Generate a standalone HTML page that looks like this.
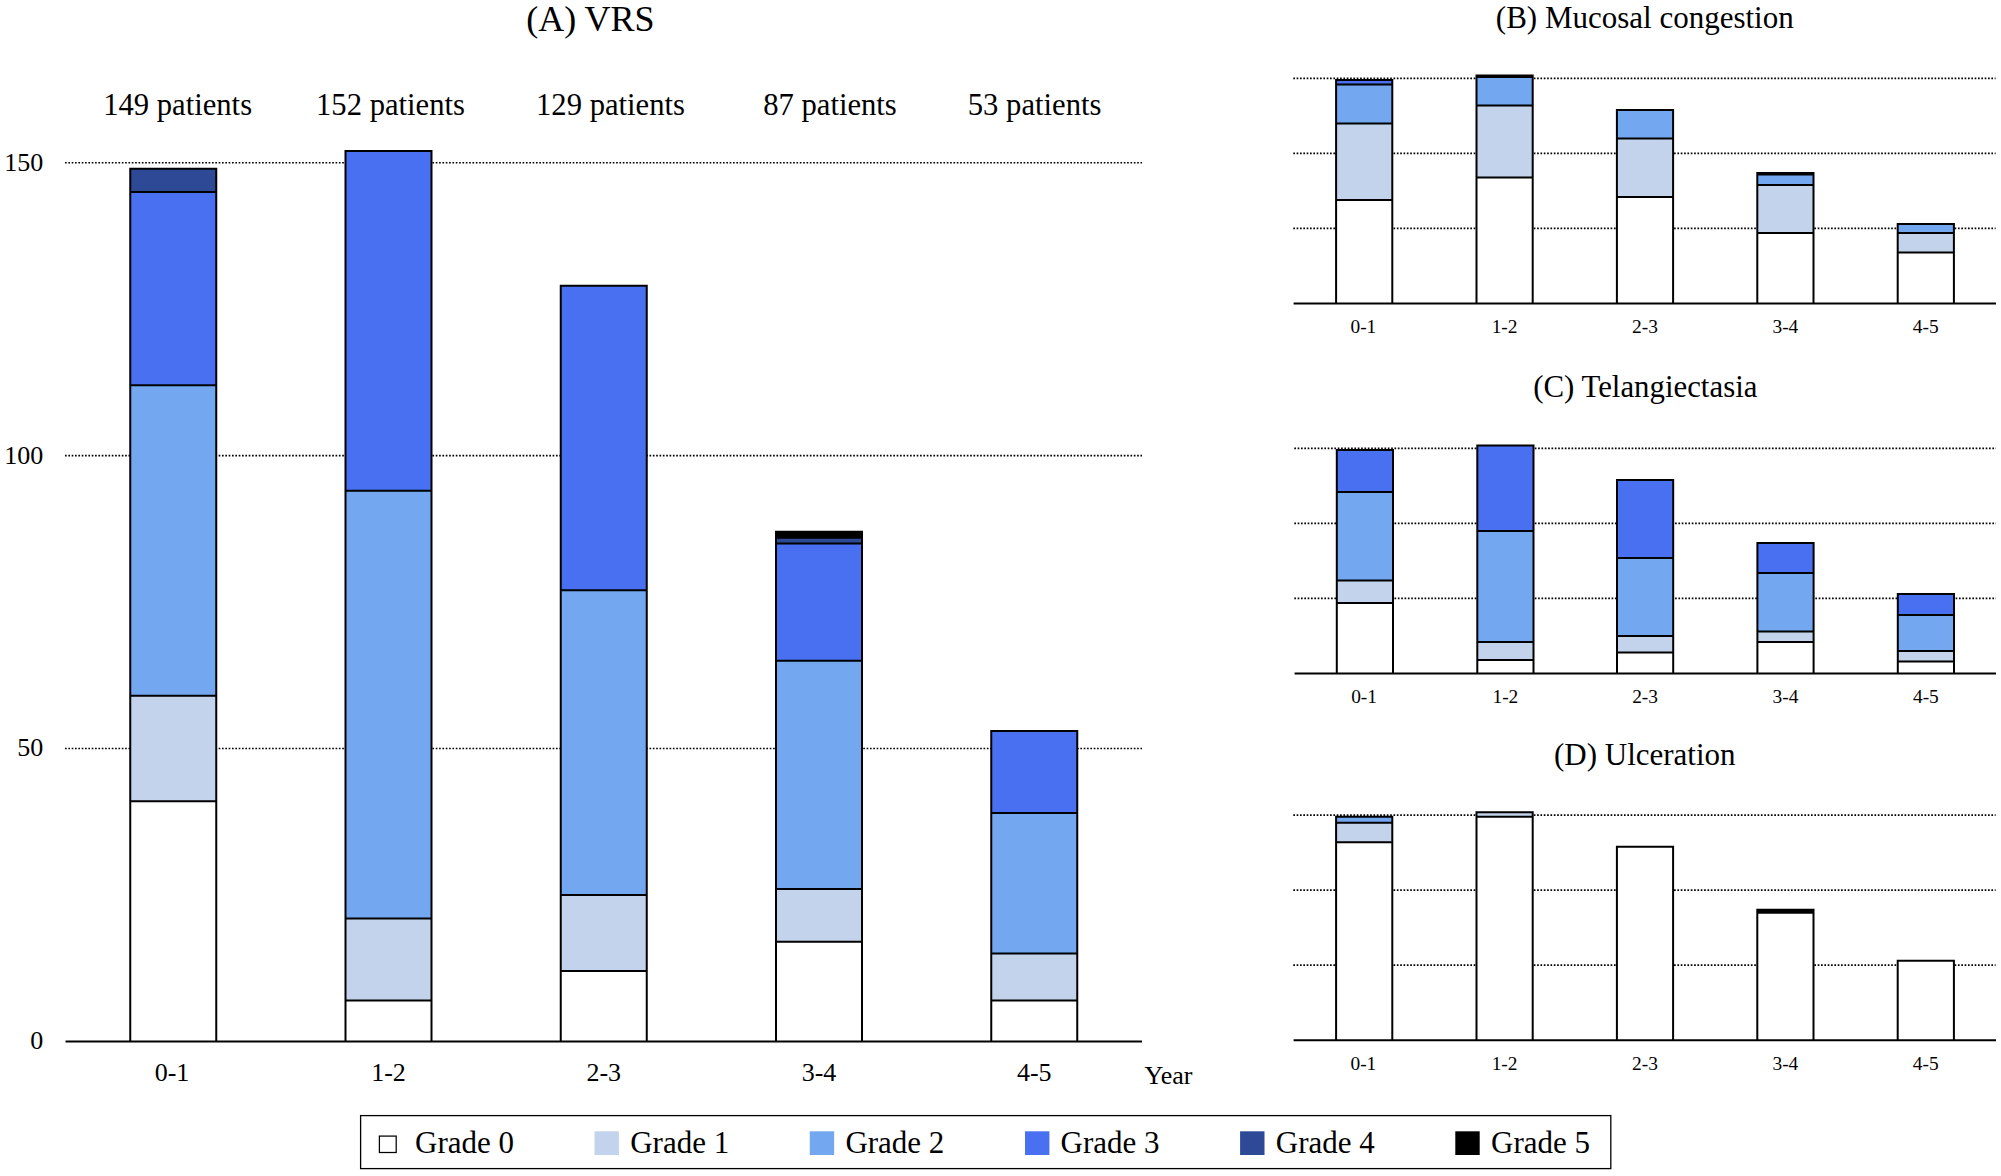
<!DOCTYPE html>
<html lang="en">
<head>
<meta charset="utf-8">
<title>VRS grade distribution by year</title>
<style>
html,body{margin:0;padding:0;background:#fff;}
body{width:2001px;height:1176px;overflow:hidden;}
svg{display:block;font-family:"Liberation Serif", serif;fill:#000;}
.g{stroke:#000;stroke-width:1.67;stroke-dasharray:1.67 1.67;fill:none;}
.b{stroke:#000;stroke-width:2;stroke-linejoin:miter;fill:none;}
.ax{stroke:#000;stroke-width:2;fill:none;}
text{fill:#000;}
</style>
</head>
<body>
<svg width="2001" height="1176" viewBox="0 0 2001 1176">
<rect x="0" y="0" width="2001" height="1176" fill="#ffffff"/>
<line class="g" x1="65" y1="748.53" x2="1142" y2="748.53"/>
<line class="g" x1="65" y1="455.65" x2="1142" y2="455.65"/>
<line class="g" x1="65" y1="162.78" x2="1142" y2="162.78"/>
<rect x="130.25" y="801.24" width="86" height="240.16" fill="#ffffff"/>
<rect x="130.25" y="695.81" width="86" height="105.44" fill="#c2d3eb"/>
<rect x="130.25" y="385.36" width="86" height="310.45" fill="#73a7f0"/>
<rect x="130.25" y="192.06" width="86" height="193.3" fill="#4870f0"/>
<rect x="130.25" y="168.63" width="86" height="23.43" fill="#2e4a96"/>
<path class="b" d="M130.25 1041.4V168.63H216.25V1041.4M130.25 801.24H216.25M130.25 695.81H216.25M130.25 385.36H216.25M130.25 192.06H216.25"/>
<rect x="345.5" y="1000.4" width="86" height="41" fill="#ffffff"/>
<rect x="345.5" y="918.39" width="86" height="82" fill="#c2d3eb"/>
<rect x="345.5" y="490.8" width="86" height="427.6" fill="#73a7f0"/>
<rect x="345.5" y="151.06" width="86" height="339.74" fill="#4870f0"/>
<path class="b" d="M345.5 1041.4V151.06H431.5V1041.4M345.5 1000.4H431.5M345.5 918.39H431.5M345.5 490.8H431.5"/>
<rect x="560.75" y="971.11" width="86" height="70.29" fill="#ffffff"/>
<rect x="560.75" y="894.96" width="86" height="76.15" fill="#c2d3eb"/>
<rect x="560.75" y="590.37" width="86" height="304.59" fill="#73a7f0"/>
<rect x="560.75" y="285.78" width="86" height="304.59" fill="#4870f0"/>
<path class="b" d="M560.75 1041.4V285.78H646.75V1041.4M560.75 971.11H646.75M560.75 894.96H646.75M560.75 590.37H646.75"/>
<rect x="776" y="941.82" width="86" height="99.58" fill="#ffffff"/>
<rect x="776" y="889.11" width="86" height="52.72" fill="#c2d3eb"/>
<rect x="776" y="660.66" width="86" height="228.44" fill="#73a7f0"/>
<rect x="776" y="543.51" width="86" height="117.15" fill="#4870f0"/>
<rect x="776" y="537.66" width="86" height="5.86" fill="#2e4a96"/>
<rect x="776" y="531.8" width="86" height="5.86" fill="#000000"/>
<path class="b" d="M776 1041.4V531.8H862V1041.4M776 941.82H862M776 889.11H862M776 660.66H862M776 543.51H862M776 537.66H862"/>
<rect x="991.25" y="1000.4" width="86" height="41" fill="#ffffff"/>
<rect x="991.25" y="953.54" width="86" height="46.86" fill="#c2d3eb"/>
<rect x="991.25" y="812.96" width="86" height="140.58" fill="#73a7f0"/>
<rect x="991.25" y="730.95" width="86" height="82" fill="#4870f0"/>
<path class="b" d="M991.25 1041.4V730.95H1077.25V1041.4M991.25 1000.4H1077.25M991.25 953.54H1077.25M991.25 812.96H1077.25"/>
<line class="ax" x1="65.5" y1="1041.4" x2="1142" y2="1041.4"/>
<text x="172.05" y="1081" font-size="26" text-anchor="middle">0-1</text>
<text x="388.5" y="1081" font-size="26" text-anchor="middle">1-2</text>
<text x="603.75" y="1081" font-size="26" text-anchor="middle">2-3</text>
<text x="819" y="1081" font-size="26" text-anchor="middle">3-4</text>
<text x="1034.25" y="1081" font-size="26" text-anchor="middle">4-5</text>
<text x="43.2" y="1049.3" font-size="26" text-anchor="end">0</text>
<text x="43.2" y="756.43" font-size="26" text-anchor="end">50</text>
<text x="43.2" y="463.55" font-size="26" text-anchor="end">100</text>
<text x="43.2" y="170.68" font-size="26" text-anchor="end">150</text>
<text x="177.6" y="115.3" font-size="30.65" text-anchor="middle">149 patients</text>
<text x="390.5" y="115.3" font-size="30.65" text-anchor="middle">152 patients</text>
<text x="610.5" y="115.3" font-size="30.65" text-anchor="middle">129 patients</text>
<text x="830" y="115.3" font-size="30.65" text-anchor="middle">87 patients</text>
<text x="1034.6" y="115.3" font-size="30.65" text-anchor="middle">53 patients</text>
<text x="590.4" y="31.2" font-size="36" text-anchor="middle">(A) VRS</text>
<text x="1144.5" y="1083.6" font-size="26">Year</text>
<line class="g" x1="1293.3" y1="228.4" x2="1995.6" y2="228.4"/>
<line class="g" x1="1293.3" y1="153.4" x2="1995.6" y2="153.4"/>
<line class="g" x1="1293.3" y1="78.4" x2="1995.6" y2="78.4"/>
<rect x="1336.1" y="199.9" width="56.2" height="103.5" fill="#ffffff"/>
<rect x="1336.1" y="123.4" width="56.2" height="76.5" fill="#c2d3eb"/>
<rect x="1336.1" y="84.4" width="56.2" height="39" fill="#73a7f0"/>
<rect x="1336.1" y="79.9" width="56.2" height="4.5" fill="#4870f0"/>
<path class="b" d="M1336.1 303.4V79.9H1392.3V303.4M1336.1 199.9H1392.3M1336.1 123.4H1392.3M1336.1 84.4H1392.3"/>
<rect x="1476.5" y="177.4" width="56.2" height="126" fill="#ffffff"/>
<rect x="1476.5" y="105.4" width="56.2" height="72" fill="#c2d3eb"/>
<rect x="1476.5" y="76.9" width="56.2" height="28.5" fill="#73a7f0"/>
<rect x="1476.5" y="75.4" width="56.2" height="1.5" fill="#000000"/>
<path class="b" d="M1476.5 303.4V75.4H1532.7V303.4M1476.5 177.4H1532.7M1476.5 105.4H1532.7M1476.5 76.9H1532.7"/>
<rect x="1616.9" y="196.9" width="56.2" height="106.5" fill="#ffffff"/>
<rect x="1616.9" y="138.4" width="56.2" height="58.5" fill="#c2d3eb"/>
<rect x="1616.9" y="109.9" width="56.2" height="28.5" fill="#73a7f0"/>
<path class="b" d="M1616.9 303.4V109.9H1673.1V303.4M1616.9 196.9H1673.1M1616.9 138.4H1673.1"/>
<rect x="1757.3" y="232.9" width="56.2" height="70.5" fill="#ffffff"/>
<rect x="1757.3" y="184.9" width="56.2" height="48" fill="#c2d3eb"/>
<rect x="1757.3" y="174.4" width="56.2" height="10.5" fill="#73a7f0"/>
<rect x="1757.3" y="172.9" width="56.2" height="1.5" fill="#000000"/>
<path class="b" d="M1757.3 303.4V172.9H1813.5V303.4M1757.3 232.9H1813.5M1757.3 184.9H1813.5M1757.3 174.4H1813.5"/>
<rect x="1897.7" y="252.4" width="56.2" height="51" fill="#ffffff"/>
<rect x="1897.7" y="232.9" width="56.2" height="19.5" fill="#c2d3eb"/>
<rect x="1897.7" y="223.9" width="56.2" height="9" fill="#73a7f0"/>
<path class="b" d="M1897.7 303.4V223.9H1953.9V303.4M1897.7 252.4H1953.9M1897.7 232.9H1953.9"/>
<line class="ax" x1="1293.6" y1="303.4" x2="1996" y2="303.4"/>
<text x="1363.4" y="333" font-size="19.4" text-anchor="middle">0-1</text>
<text x="1504.6" y="333" font-size="19.4" text-anchor="middle">1-2</text>
<text x="1645" y="333" font-size="19.4" text-anchor="middle">2-3</text>
<text x="1785.4" y="333" font-size="19.4" text-anchor="middle">3-4</text>
<text x="1925.8" y="333" font-size="19.4" text-anchor="middle">4-5</text>
<text x="1644.8" y="28.1" font-size="31" text-anchor="middle">(B) Mucosal congestion</text>
<line class="g" x1="1294.3" y1="598.4" x2="1996" y2="598.4"/>
<line class="g" x1="1294.3" y1="523.4" x2="1996" y2="523.4"/>
<line class="g" x1="1294.3" y1="448.4" x2="1996" y2="448.4"/>
<rect x="1336.8" y="602.9" width="56.2" height="70.5" fill="#ffffff"/>
<rect x="1336.8" y="580.4" width="56.2" height="22.5" fill="#c2d3eb"/>
<rect x="1336.8" y="491.9" width="56.2" height="88.5" fill="#73a7f0"/>
<rect x="1336.8" y="449.9" width="56.2" height="42" fill="#4870f0"/>
<path class="b" d="M1336.8 673.4V449.9H1393V673.4M1336.8 602.9H1393M1336.8 580.4H1393M1336.8 491.9H1393"/>
<rect x="1477.3" y="659.9" width="56.2" height="13.5" fill="#ffffff"/>
<rect x="1477.3" y="641.9" width="56.2" height="18" fill="#c2d3eb"/>
<rect x="1477.3" y="530.9" width="56.2" height="111" fill="#73a7f0"/>
<rect x="1477.3" y="445.4" width="56.2" height="85.5" fill="#4870f0"/>
<path class="b" d="M1477.3 673.4V445.4H1533.5V673.4M1477.3 659.9H1533.5M1477.3 641.9H1533.5M1477.3 530.9H1533.5"/>
<rect x="1617" y="652.4" width="56.2" height="21" fill="#ffffff"/>
<rect x="1617" y="635.9" width="56.2" height="16.5" fill="#c2d3eb"/>
<rect x="1617" y="557.9" width="56.2" height="78" fill="#73a7f0"/>
<rect x="1617" y="479.9" width="56.2" height="78" fill="#4870f0"/>
<path class="b" d="M1617 673.4V479.9H1673.2V673.4M1617 652.4H1673.2M1617 635.9H1673.2M1617 557.9H1673.2"/>
<rect x="1757.4" y="641.9" width="56.2" height="31.5" fill="#ffffff"/>
<rect x="1757.4" y="631.4" width="56.2" height="10.5" fill="#c2d3eb"/>
<rect x="1757.4" y="572.9" width="56.2" height="58.5" fill="#73a7f0"/>
<rect x="1757.4" y="542.9" width="56.2" height="30" fill="#4870f0"/>
<path class="b" d="M1757.4 673.4V542.9H1813.6V673.4M1757.4 641.9H1813.6M1757.4 631.4H1813.6M1757.4 572.9H1813.6"/>
<rect x="1897.8" y="661.4" width="56.2" height="12" fill="#ffffff"/>
<rect x="1897.8" y="650.9" width="56.2" height="10.5" fill="#c2d3eb"/>
<rect x="1897.8" y="614.9" width="56.2" height="36" fill="#73a7f0"/>
<rect x="1897.8" y="593.9" width="56.2" height="21" fill="#4870f0"/>
<path class="b" d="M1897.8 673.4V593.9H1954V673.4M1897.8 661.4H1954M1897.8 650.9H1954M1897.8 614.9H1954"/>
<line class="ax" x1="1294.6" y1="673.4" x2="1996" y2="673.4"/>
<text x="1364.1" y="703" font-size="19.4" text-anchor="middle">0-1</text>
<text x="1505.4" y="703" font-size="19.4" text-anchor="middle">1-2</text>
<text x="1645.1" y="703" font-size="19.4" text-anchor="middle">2-3</text>
<text x="1785.5" y="703" font-size="19.4" text-anchor="middle">3-4</text>
<text x="1925.9" y="703" font-size="19.4" text-anchor="middle">4-5</text>
<text x="1645.3" y="397.4" font-size="30.85" text-anchor="middle">(C) Telangiectasia</text>
<line class="g" x1="1293.3" y1="965.2" x2="1995.6" y2="965.2"/>
<line class="g" x1="1293.3" y1="890.2" x2="1995.6" y2="890.2"/>
<line class="g" x1="1293.3" y1="815.2" x2="1995.6" y2="815.2"/>
<rect x="1336.1" y="842.2" width="56.2" height="198" fill="#ffffff"/>
<rect x="1336.1" y="822.7" width="56.2" height="19.5" fill="#c2d3eb"/>
<rect x="1336.1" y="816.7" width="56.2" height="6" fill="#73a7f0"/>
<path class="b" d="M1336.1 1040.2V816.7H1392.3V1040.2M1336.1 842.2H1392.3M1336.1 822.7H1392.3"/>
<rect x="1476.5" y="816.7" width="56.2" height="223.5" fill="#ffffff"/>
<rect x="1476.5" y="812.2" width="56.2" height="4.5" fill="#c2d3eb"/>
<path class="b" d="M1476.5 1040.2V812.2H1532.7V1040.2M1476.5 816.7H1532.7"/>
<rect x="1616.9" y="846.7" width="56.2" height="193.5" fill="#ffffff"/>
<path class="b" d="M1616.9 1040.2V846.7H1673.1V1040.2"/>
<rect x="1757.3" y="912.7" width="56.2" height="127.5" fill="#ffffff"/>
<rect x="1757.3" y="909.7" width="56.2" height="3" fill="#000000"/>
<path class="b" d="M1757.3 1040.2V909.7H1813.5V1040.2M1757.3 912.7H1813.5"/>
<rect x="1897.7" y="960.7" width="56.2" height="79.5" fill="#ffffff"/>
<path class="b" d="M1897.7 1040.2V960.7H1953.9V1040.2"/>
<line class="ax" x1="1293.6" y1="1040.2" x2="1996" y2="1040.2"/>
<text x="1363.4" y="1070.3" font-size="19.4" text-anchor="middle">0-1</text>
<text x="1504.6" y="1070.3" font-size="19.4" text-anchor="middle">1-2</text>
<text x="1645" y="1070.3" font-size="19.4" text-anchor="middle">2-3</text>
<text x="1785.4" y="1070.3" font-size="19.4" text-anchor="middle">3-4</text>
<text x="1925.8" y="1070.3" font-size="19.4" text-anchor="middle">4-5</text>
<text x="1644.8" y="764.9" font-size="31" text-anchor="middle">(D) Ulceration</text>
<rect x="360.6" y="1115.6" width="1250.2" height="53" fill="#fff" stroke="#000" stroke-width="1.3"/>
<rect x="379.4" y="1136.1" width="16.8" height="16.4" fill="#fff" stroke="#000" stroke-width="1.25"/>
<rect x="594.5" y="1131.3" width="24.4" height="23.7" fill="#c2d3eb"/>
<rect x="809.75" y="1131.3" width="24.4" height="23.7" fill="#73a7f0"/>
<rect x="1025" y="1131.3" width="24.4" height="23.7" fill="#4870f0"/>
<rect x="1240.1" y="1131.3" width="24.4" height="23.7" fill="#2e4a96"/>
<rect x="1455.3" y="1131.3" width="24.4" height="23.7" fill="#000000"/>
<text x="415" y="1152.5" font-size="31">Grade 0</text>
<text x="630.2" y="1152.5" font-size="31">Grade 1</text>
<text x="845.4" y="1152.5" font-size="31">Grade 2</text>
<text x="1060.6" y="1152.5" font-size="31">Grade 3</text>
<text x="1275.8" y="1152.5" font-size="31">Grade 4</text>
<text x="1491" y="1152.5" font-size="31">Grade 5</text>
</svg>
</body>
</html>
